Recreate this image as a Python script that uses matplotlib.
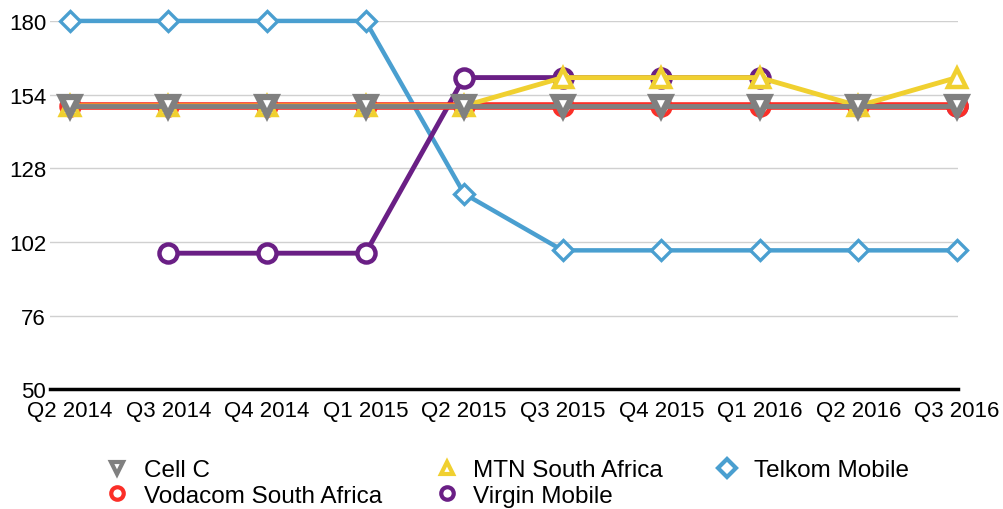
import numpy as np
import matplotlib
matplotlib.use("Agg")
import matplotlib.pyplot as plt

quarters = ["Q2 2014", "Q3 2014", "Q4 2014", "Q1 2015", "Q2 2015",
            "Q3 2015", "Q4 2015", "Q1 2016", "Q2 2016", "Q3 2016"]

telkom = [180, 180, 180, 180, 119, 99, 99, 99, 99, 99]
virgin = [np.nan, 98, 98, 98, 160, 160, 160, 160, np.nan, 150]
vodacom = [150, 150, 150, 150, 150, 150, 150, 150, 150, 150]
mtn = [150, 150, 150, 150, 150, 160, 160, 160, 150, 160]
cell_c = [150, 150, 150, 150, 150, 150, 150, 150, 150, 150]

yticks = [50, 76, 102, 128, 154, 180]

plt.rcParams['font.family'] = ['Liberation Sans', 'DejaVu Sans']

fig = plt.figure(figsize=(10.04, 5.10), dpi=100)
ax = fig.add_axes([0.05, 0.235, 0.904, 0.722])

x = np.arange(len(quarters))
style = dict(lw=3.5, markersize=13, markeredgewidth=3.2, markerfacecolor='white', clip_on=False)

ax.plot(x, telkom, color='#4a9fd0', marker='D', label='Telkom Mobile', zorder=3,
        **{**style, 'markersize': 10, 'markeredgewidth': 2.4, 'lw': 3.2})
ax.plot(x, virgin, color='#6a1f85', marker='o', label='Virgin Mobile', zorder=4, **style)
ax.plot(x, vodacom, color='#fb2f28', marker='o', label='Vodacom South Africa', zorder=5,
        **{**style, 'lw': 5.5})
ax.plot(x, mtn, color='#f0d030', marker='^', label='MTN South Africa', zorder=6, **style)
ax.plot(x, cell_c, color='#808080', marker='v', label='Cell C', zorder=7,
        **{**style, 'markeredgewidth': 4.5})

ax.set_xlim(-0.2, 9.01)
ax.set_ylim(50, 180)
ax.set_yticks(yticks)
ax.set_xticks(x)
ax.set_xticklabels(quarters)
ax.tick_params(axis='both', length=0, labelsize=16)
ax.tick_params(axis='x', pad=8)
ax.tick_params(axis='y', pad=3)

ax.grid(axis='y', color='#d0d0d0', lw=1)
ax.set_axisbelow(True)
for s in ['top', 'right', 'left']:
    ax.spines[s].set_visible(False)
ax.spines['bottom'].set_linewidth(2.5)
ax.spines['bottom'].set_color('black')
ax.spines['bottom'].set_zorder(8)

handles, labels = ax.get_legend_handles_labels()
order = ['Cell C', 'Vodacom South Africa', 'MTN South Africa', 'Virgin Mobile', 'Telkom Mobile']
hmap = dict(zip(labels, handles))
leg = fig.legend([hmap[k] for k in order], order, ncol=3, loc='upper left',
                 bbox_to_anchor=(0.095, 0.117), frameon=False, fontsize=17.5,
                 handlelength=1.0, handletextpad=0.6, columnspacing=2.15,
                 labelspacing=0.15, borderaxespad=0)
for h in leg.legend_handles:
    h.set_linestyle('none')
    h.set_markersize(9)
    h.set_markeredgewidth(3)

fig.savefig('out.png', dpi=100)
